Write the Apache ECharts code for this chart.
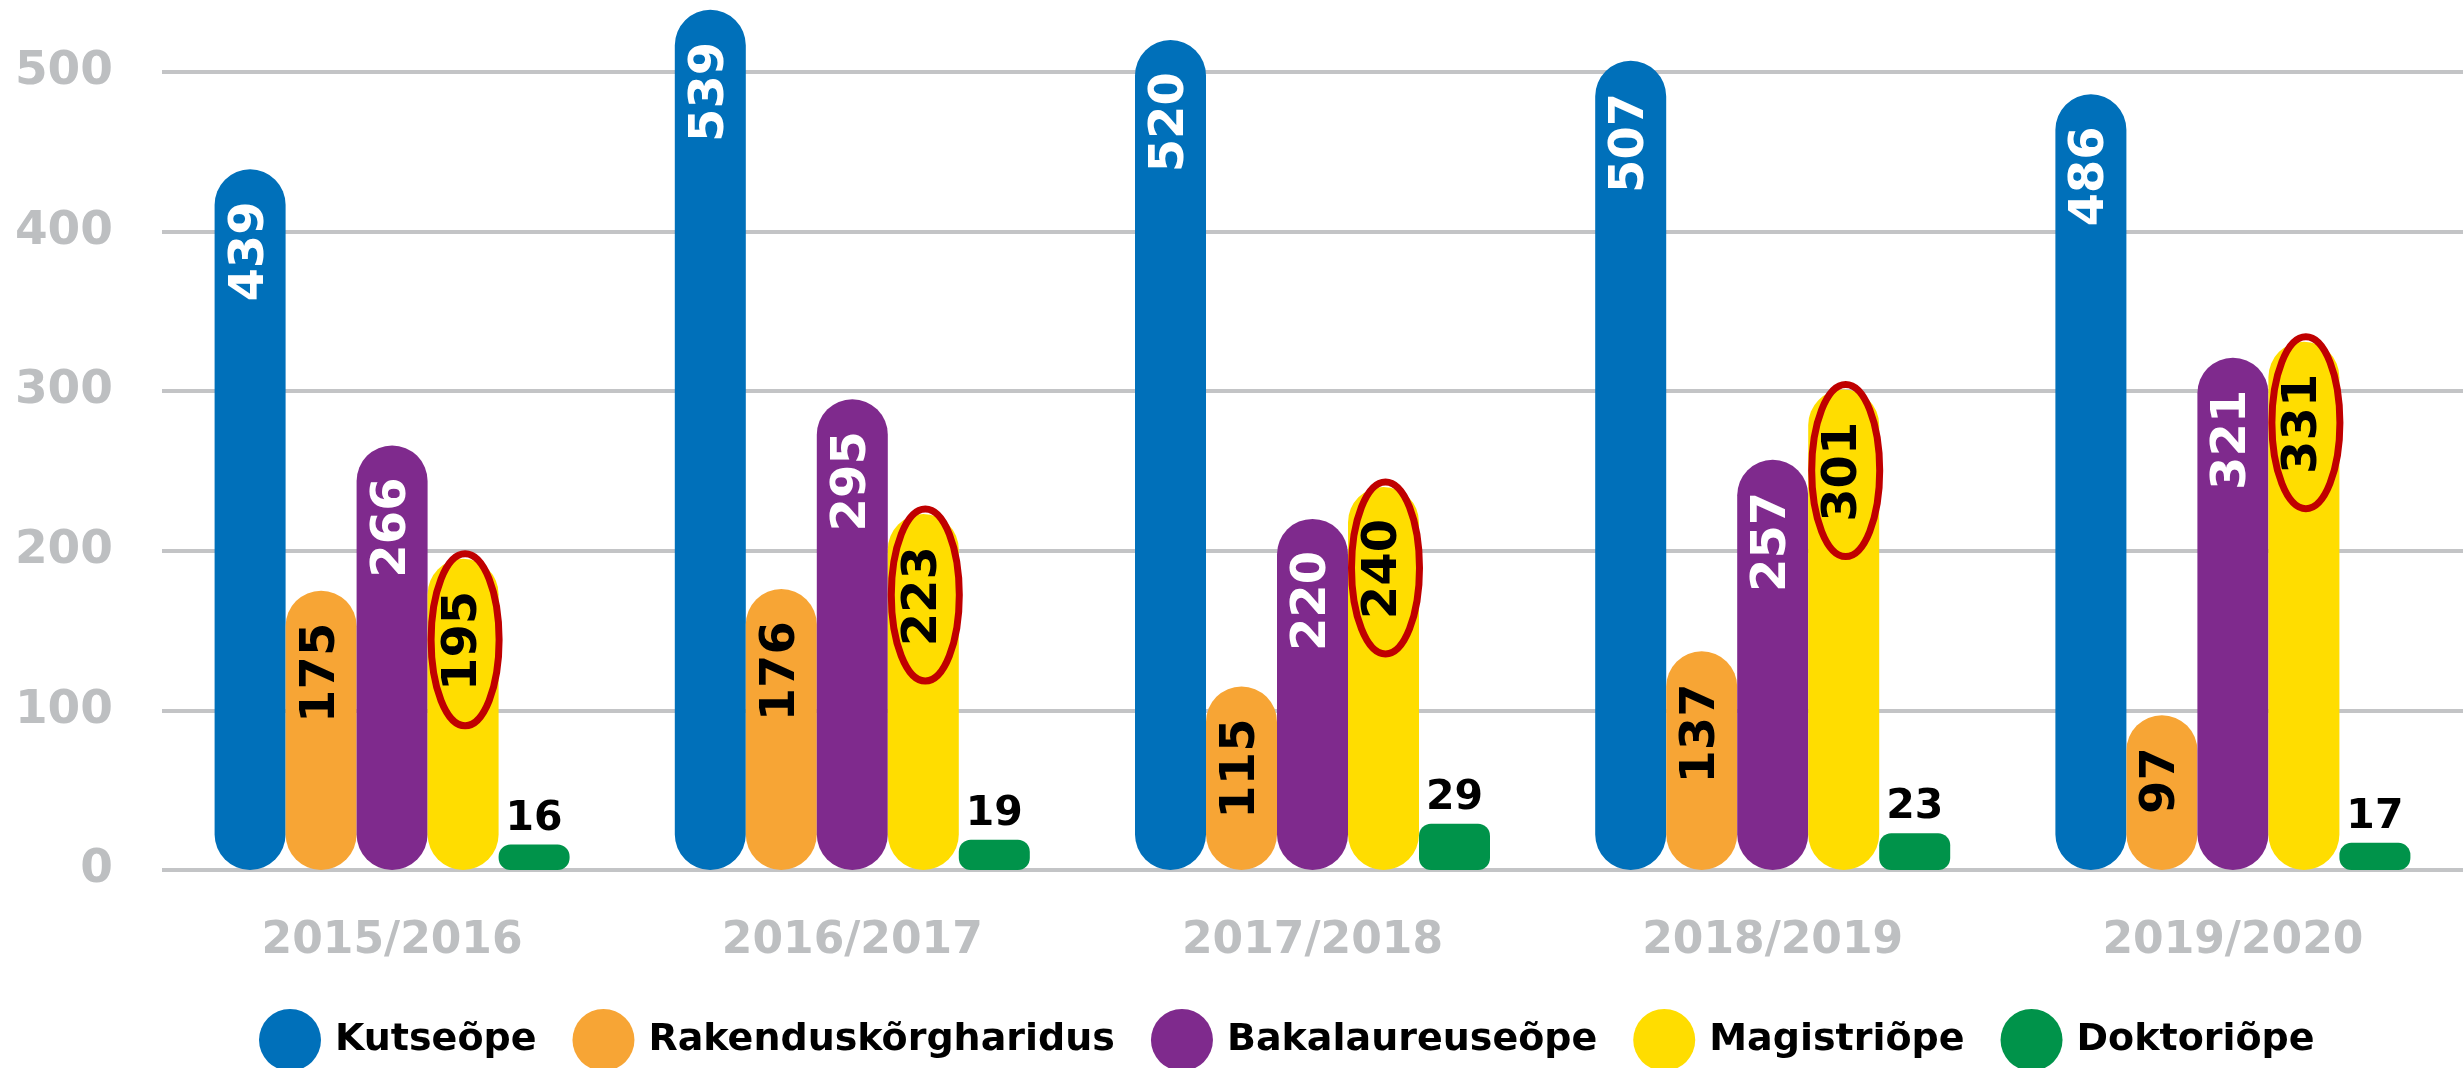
<!DOCTYPE html>
<html>
<head>
<meta charset="utf-8">
<script src="https://cdn.jsdelivr.net/npm/echarts@6/dist/echarts.min.js"></script>
<style>
html,body{margin:0;padding:0;background:#fff;}
#chart{width:2463px;height:1068px;}
</style>
</head>
<body>
<div id="chart"></div>
<script>
const categories = ['2015/2016', '2016/2017', '2017/2018', '2018/2019', '2019/2020'];
const seriesNames = ['Kutseõpe', 'Rakenduskõrgharidus', 'Bakalaureuseõpe', 'Magistriõpe', 'Doktoriõpe'];
const kutseope = [439, 539, 520, 507, 486];
const rakendus = [175, 176, 115, 137, 97];
const bakalaureus = [266, 295, 220, 257, 321];
const magistri = [195, 223, 240, 301, 331];
const doktori = [16, 19, 29, 23, 17];
const yTicks = [0, 100, 200, 300, 400, 500];

const colors = ['#0070BA', '#F7A535', '#7F2A8D', '#FFDD00', '#00934A'];
const FONT = 'DejaVu Sans';
const GRAY = '#BDBFC1';
const BAR_W = 71;

function insideLabel(color) {
  return {
    show: true,
    position: 'insideTop',
    distance: 32,
    rotate: 90,
    align: 'right',
    verticalAlign: 'middle',
    color: color,
    fontFamily: FONT,
    fontWeight: 'bold',
    fontSize: 48
  };
}

const base = {
  type: 'bar',
  barWidth: BAR_W,
  barGap: '0%',
  clip: false,
  emphasis: { disabled: true }
};

// highlight ellipses around the Magistriõpe values (positioned through the axes)
const ellipseData = magistri.map(function (v, i) { return [i, v]; });

const series = [
  Object.assign({}, base, {
    name: seriesNames[0], data: kutseope,
    itemStyle: { color: colors[0], borderRadius: 36 },
    label: insideLabel('#ffffff')
  }),
  Object.assign({}, base, {
    name: seriesNames[1], data: rakendus,
    itemStyle: { color: colors[1], borderRadius: 36 },
    label: insideLabel('#000000')
  }),
  Object.assign({}, base, {
    name: seriesNames[2], data: bakalaureus,
    itemStyle: { color: colors[2], borderRadius: 36 },
    label: insideLabel('#ffffff')
  }),
  Object.assign({}, base, {
    name: seriesNames[3], data: magistri,
    itemStyle: { color: colors[3], borderRadius: 36 },
    label: insideLabel('#000000')
  }),
  Object.assign({}, base, {
    name: seriesNames[4], data: doktori,
    itemStyle: { color: colors[4], borderRadius: 12 },
    label: {
      show: true, position: 'top', distance: 5,
      color: '#000000', fontFamily: FONT, fontWeight: 'bold', fontSize: 41
    }
  }),
  {
    type: 'custom',
    name: 'highlight',
    data: ellipseData,
    encode: { x: 0, y: 1 },
    z: 10,
    silent: true,
    clip: false,
    renderItem: function (params, api) {
      const p = api.coord([api.value(0), api.value(1)]);
      return {
        type: 'ellipse',
        shape: { cx: p[0] + BAR_W + 2, cy: p[1] + 81, rx: 34, ry: 86 },
        style: { fill: 'none', stroke: '#C00000', lineWidth: 7 }
      };
    }
  }
];

const chart = echarts.init(document.getElementById('chart'), null, { renderer: 'canvas' });
chart.setOption({
  animation: false,
  backgroundColor: '#ffffff',
  color: colors,
  grid: { left: 162, right: 0, top: 72, bottom: 198, containLabel: false },
  legend: {
    data: seriesNames,
    left: 259,
    top: 1009,
    padding: 0,
    icon: 'circle',
    itemWidth: 80,
    itemHeight: 62,
    itemGap: 36,
    selectedMode: false,
    textStyle: { color: '#000000', fontFamily: FONT, fontWeight: 'bold', fontSize: 38 }
  },
  xAxis: {
    type: 'category',
    data: categories,
    axisLine: { show: false },
    axisTick: { show: false },
    axisLabel: { color: GRAY, fontFamily: FONT, fontWeight: 'bold', fontSize: 44, margin: 50 }
  },
  yAxis: {
    type: 'value',
    min: yTicks[0],
    max: yTicks[yTicks.length - 1],
    interval: yTicks[1] - yTicks[0],
    axisLine: { show: false },
    axisTick: { show: false },
    axisLabel: { color: GRAY, fontFamily: FONT, fontWeight: 'bold', fontSize: 47, margin: 49 },
    splitLine: { lineStyle: { color: '#C3C4C6', width: 4 } }
  },
  series: series
});
</script>
</body>
</html>
